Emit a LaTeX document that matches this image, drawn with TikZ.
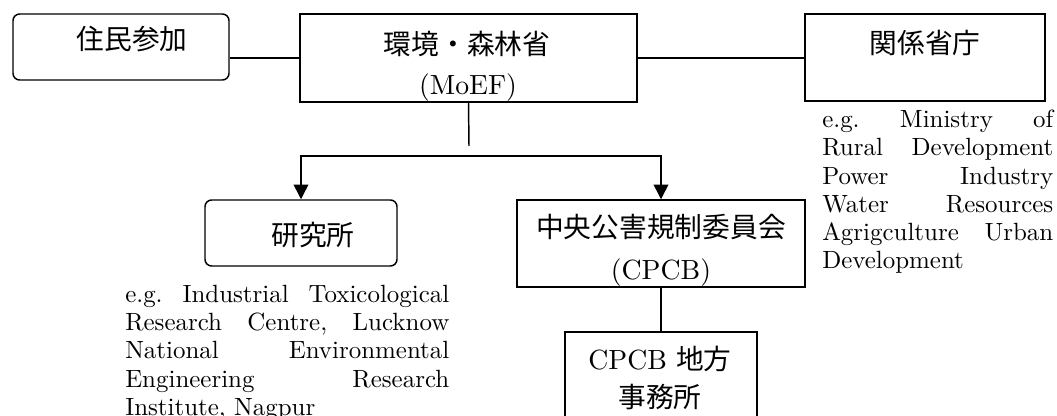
\documentclass[tikz,border=0pt]{standalone}
\usepackage{fontspec}
\setmainfont{lmroman10}[Extension=.otf, UprightFont=*-regular, BoldFont=*-bold,
  ItalicFont=*-italic, BoldItalicFont=*-bolditalic]
\newfontfamily\jp{Noto Sans CJK JP}
\usetikzlibrary{arrows.meta}
\tikzset{
  box/.style={draw, line width=1.1pt, inner sep=0pt},
  rbox/.style={box, rounded corners=5pt},
  lbl/.style={inner sep=0pt, font=\fontsize{20.8}{25}\selectfont},
  note/.style={inner sep=0pt, anchor=north west, align=justify,
    font=\fontsize{18.7}{21.2}\selectfont\frenchspacing},
  link/.style={line width=1.1pt},
  tip/.style={{Triangle[width=11pt,length=11pt]}-{Triangle[width=11pt,length=11pt]}}
}
\begin{document}
\begin{tikzpicture}[x=0.75pt,y=-0.75pt]
\useasboundingbox (0,0) rectangle (1057,416);
% boxes
\node[rbox, minimum width=162pt, minimum height=49.5pt] (jumin) at (121,47) {};
\node[box, minimum width=252.75pt, minimum height=66pt] (moef) at (468.5,58) {};
\node[box, minimum width=180pt, minimum height=65.25pt] (kankei) at (925,57.5) {};
\node[rbox, minimum width=144pt, minimum height=49.5pt] (kenkyu) at (301,233) {};
\node[box, minimum width=216pt, minimum height=65.25pt] (cpcb) at (661,243.5) {};
\node[box, minimum width=144pt, minimum height=69.75pt] (chiho) at (661,378.5) {};
% box texts
\node[lbl] (juminA) at (132,39) {\jp 住民参加};
\node[lbl] (moefA) at (467,44) {\jp 環境・森林省};
\node[lbl] (moefB) at (468,88) {(MoEF)};
\node[lbl] (kankeiA) at (925,43) {\jp 関係省庁};
\node[lbl] (kenkyuA) at (313,235) {\jp 研究所};
\node[lbl] (cpcbA) at (661,227) {\jp 中央公害規制委員会};
\node[lbl] (cpcbB) at (661,273) {(CPCB)};
\node[lbl] (chihoA) at (660,359) {CPCB {\jp 地方}};
\node[lbl] (chihoB) at (660,397) {\jp 事務所};
% notes
\node[note, text width=243pt] (kenkyunote) at (125,284.7)
  {e.g. Industrial Toxicological\linebreak Research Centre, Lucknow\linebreak
   National Environmental\linebreak Engineering Research\linebreak Institute, Nagpur};
\node[note, text width=173.25pt] (kankeinote) at (822,109.7)
  {e.g. Ministry of\linebreak Rural Development\linebreak Power Industry\linebreak
   Water Resources\linebreak Agrigculture Urban\linebreak Development};
% connectors
\coordinate (stub) at (469,146);
\coordinate (bar) at (469,156);
\draw[link] (moef.west) -- (moef.west -| jumin.east);
\draw[link] (moef.east) -- (moef.east -| kankei.west);
\draw[link] (moef.south) -- (stub);
\draw[link, tip] (kenkyu.north) -- (kenkyu.north |- bar) -- (cpcb.north |- bar) -- (cpcb.north);
\draw[link] (cpcb.south) -- (chiho.north);
\end{tikzpicture}
\end{document}
